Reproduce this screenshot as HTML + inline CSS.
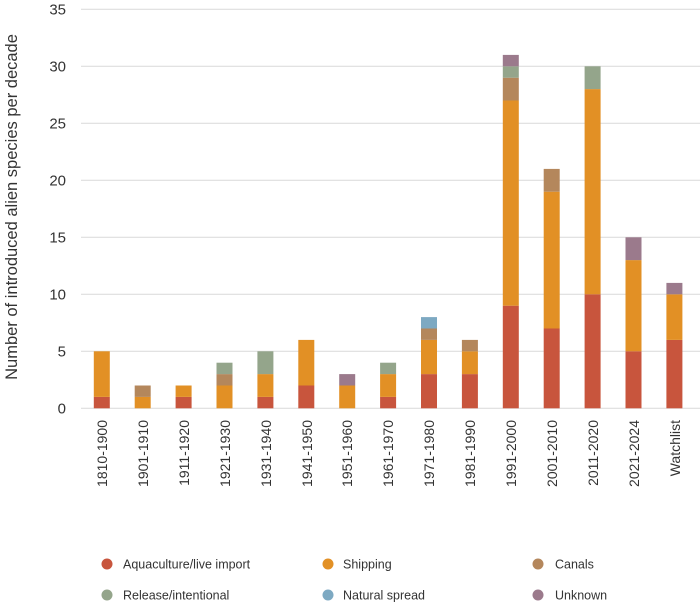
<!DOCTYPE html>
<html><head><meta charset="utf-8"><style>
html,body{margin:0;padding:0;background:#fff;}
svg{display:block;font-family:"Liberation Sans",sans-serif;}
</style></head><body>
<svg width="700" height="611" viewBox="0 0 700 611">
<g stroke="#d9d9d9" stroke-width="1">
<line x1="81" x2="700" y1="408.3" y2="408.3"/>
<line x1="81" x2="700" y1="351.3" y2="351.3"/>
<line x1="81" x2="700" y1="294.3" y2="294.3"/>
<line x1="81" x2="700" y1="237.3" y2="237.3"/>
<line x1="81" x2="700" y1="180.3" y2="180.3"/>
<line x1="81" x2="700" y1="123.3" y2="123.3"/>
<line x1="81" x2="700" y1="66.3" y2="66.3"/>
<line x1="81" x2="700" y1="9.3" y2="9.3"/>
</g>
<g font-size="15" fill="#333" text-anchor="end">
<text x="66" y="413.5">0</text>
<text x="66" y="356.5">5</text>
<text x="66" y="299.5">10</text>
<text x="66" y="242.5">15</text>
<text x="66" y="185.5">20</text>
<text x="66" y="128.5">25</text>
<text x="66" y="71.5">30</text>
<text x="66" y="14.5">35</text>
</g>
<text transform="translate(17,207) rotate(-90)" font-size="16.5" fill="#333" text-anchor="middle">Number of introduced alien species per decade</text>
<g transform="translate(0,408.3) scale(1,-11.4)">
<rect x="93.8" y="0" width="16" height="1" fill="#c8553d"/><rect x="93.8" y="1" width="16" height="4" fill="#e29025"/>
<rect x="134.7" y="0" width="16" height="1" fill="#e29025"/><rect x="134.7" y="1" width="16" height="1" fill="#b4875c"/>
<rect x="175.6" y="0" width="16" height="1" fill="#c8553d"/><rect x="175.6" y="1" width="16" height="1" fill="#e29025"/>
<rect x="216.5" y="0" width="16" height="2" fill="#e29025"/><rect x="216.5" y="2" width="16" height="1" fill="#b4875c"/><rect x="216.5" y="3" width="16" height="1" fill="#94a58b"/>
<rect x="257.4" y="0" width="16" height="1" fill="#c8553d"/><rect x="257.4" y="1" width="16" height="2" fill="#e29025"/><rect x="257.4" y="3" width="16" height="2" fill="#94a58b"/>
<rect x="298.3" y="0" width="16" height="2" fill="#c8553d"/><rect x="298.3" y="2" width="16" height="4" fill="#e29025"/>
<rect x="339.2" y="0" width="16" height="2" fill="#e29025"/><rect x="339.2" y="2" width="16" height="1" fill="#9b7a8c"/>
<rect x="380.1" y="0" width="16" height="1" fill="#c8553d"/><rect x="380.1" y="1" width="16" height="2" fill="#e29025"/><rect x="380.1" y="3" width="16" height="1" fill="#94a58b"/>
<rect x="421" y="0" width="16" height="3" fill="#c8553d"/><rect x="421" y="3" width="16" height="3" fill="#e29025"/><rect x="421" y="6" width="16" height="1" fill="#b4875c"/><rect x="421" y="7" width="16" height="1" fill="#7da9c2"/>
<rect x="461.9" y="0" width="16" height="3" fill="#c8553d"/><rect x="461.9" y="3" width="16" height="2" fill="#e29025"/><rect x="461.9" y="5" width="16" height="1" fill="#b4875c"/>
<rect x="502.8" y="0" width="16" height="9" fill="#c8553d"/><rect x="502.8" y="9" width="16" height="18" fill="#e29025"/><rect x="502.8" y="27" width="16" height="2" fill="#b4875c"/><rect x="502.8" y="29" width="16" height="1" fill="#94a58b"/><rect x="502.8" y="30" width="16" height="1" fill="#9b7a8c"/>
<rect x="543.7" y="0" width="16" height="7" fill="#c8553d"/><rect x="543.7" y="7" width="16" height="12" fill="#e29025"/><rect x="543.7" y="19" width="16" height="2" fill="#b4875c"/>
<rect x="584.6" y="0" width="16" height="10" fill="#c8553d"/><rect x="584.6" y="10" width="16" height="18" fill="#e29025"/><rect x="584.6" y="28" width="16" height="2" fill="#94a58b"/>
<rect x="625.5" y="0" width="16" height="5" fill="#c8553d"/><rect x="625.5" y="5" width="16" height="8" fill="#e29025"/><rect x="625.5" y="13" width="16" height="2" fill="#9b7a8c"/>
<rect x="666.4" y="0" width="16" height="6" fill="#c8553d"/><rect x="666.4" y="6" width="16" height="4" fill="#e29025"/><rect x="666.4" y="10" width="16" height="1" fill="#9b7a8c"/>
</g>
<g font-size="14" fill="#333" text-anchor="end">
<text transform="translate(107,420) rotate(-90)">1810-1900</text>
<text transform="translate(148,420) rotate(-90)">1901-1910</text>
<text transform="translate(189,420) rotate(-90)">1911-1920</text>
<text transform="translate(230,420) rotate(-90)">1921-1930</text>
<text transform="translate(271,420) rotate(-90)">1931-1940</text>
<text transform="translate(312,420) rotate(-90)">1941-1950</text>
<text transform="translate(352,420) rotate(-90)">1951-1960</text>
<text transform="translate(393,420) rotate(-90)">1961-1970</text>
<text transform="translate(434,420) rotate(-90)">1971-1980</text>
<text transform="translate(475,420) rotate(-90)">1981-1990</text>
<text transform="translate(516,420) rotate(-90)">1991-2000</text>
<text transform="translate(557,420) rotate(-90)">2001-2010</text>
<text transform="translate(598,420) rotate(-90)">2011-2020</text>
<text transform="translate(639,420) rotate(-90)">2021-2024</text>
<text transform="translate(680,420) rotate(-90)">Watchlist</text>
</g>
<g font-size="12.5" fill="#333">
<circle cx="107" cy="564" r="5.5" fill="#c8553d"/><text x="123" y="568.5">Aquaculture/live import</text>
<circle cx="328" cy="564" r="5.5" fill="#e29025"/><text x="343" y="568.5">Shipping</text>
<circle cx="538" cy="564" r="5.5" fill="#b4875c"/><text x="555" y="568.5">Canals</text>
<circle cx="107" cy="595" r="5.5" fill="#94a58b"/><text x="123" y="599.5">Release/intentional</text>
<circle cx="328" cy="595" r="5.5" fill="#7da9c2"/><text x="343" y="599.5">Natural spread</text>
<circle cx="538" cy="595" r="5.5" fill="#9b7a8c"/><text x="555" y="599.5">Unknown</text>
</g>
</svg>
</body></html>
